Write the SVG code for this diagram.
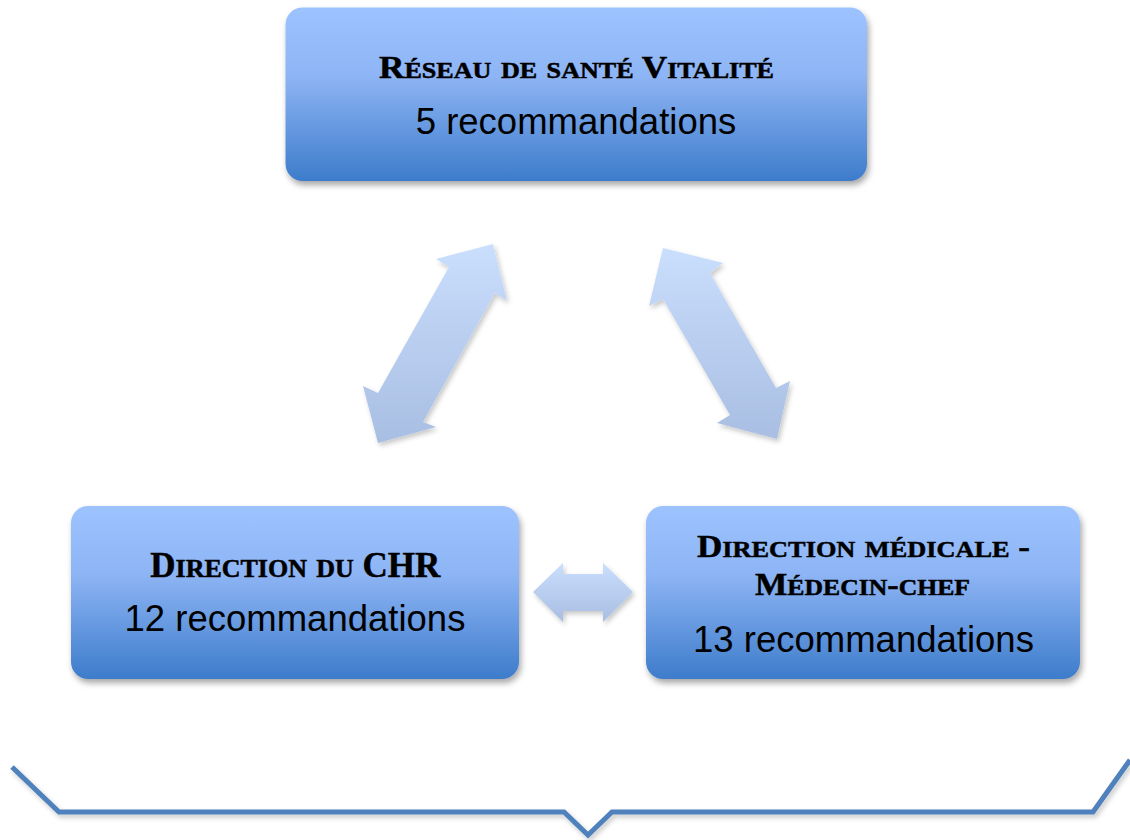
<svg xmlns="http://www.w3.org/2000/svg" width="1130" height="840" viewBox="0 0 1130 840">
  <defs>
    <linearGradient id="boxGrad" x1="0" y1="0" x2="0" y2="1">
      <stop offset="0" stop-color="#9dc3ff"/>
      <stop offset="0.4" stop-color="#8db4f4"/>
      <stop offset="1" stop-color="#3d7ccb"/>
    </linearGradient>
    <linearGradient id="arrowGrad" x1="0" y1="0" x2="0" y2="1">
      <stop offset="0" stop-color="#cadefd"/>
      <stop offset="1" stop-color="#a8bee2"/>
    </linearGradient>
    <filter id="shadow" x="-10%" y="-10%" width="125%" height="130%">
      <feDropShadow dx="2" dy="4" stdDeviation="3" flood-color="#000" flood-opacity="0.35"/>
    </filter>
    <filter id="shadowSoft" x="-15%" y="-15%" width="135%" height="135%">
      <feDropShadow dx="2" dy="3" stdDeviation="2.5" flood-color="#000" flood-opacity="0.22"/>
    </filter>
  </defs>
  <style>
    .box { fill: url(#boxGrad); filter: url(#shadow); }
    .arrow { fill: url(#arrowGrad); filter: url(#shadowSoft); }
    .title { font-family: "Liberation Serif", "Times New Roman", serif; font-weight: bold; font-variant: small-caps; fill: #000; stroke: #000; stroke-width: 0.5; text-anchor: middle; }
    .count { font-family: "Liberation Sans", Arial, sans-serif; font-size: 36.5px; fill: #000; text-anchor: middle; }
    .brace { fill: none; stroke: #4f81bd; stroke-width: 5; stroke-linejoin: miter; filter: url(#shadowSoft); }
  </style>

  <g id="connectors">
    <polygon class="arrow" points="493,244 507,301 495,293 423,422 436,427 378,443 363,386 378,393 449,267 436,259"/>
    <polygon class="arrow" points="663,248 723,263 710,273 776,388 790,381 777,439 717,423 730,415 663,299 649,306"/>
    <polygon class="arrow" points="533,592 563,563 563,574 603,574 603,563 633,592 603,622 603,611 563,611 563,622"/>
  </g>

  <g id="node-reseau">
    <rect class="box" x="285.5" y="7.5" width="581.5" height="173.5" rx="17" ry="17"/>
    <text class="title" x="576.5" y="78" font-size="31" textLength="395" lengthAdjust="spacingAndGlyphs">R<tspan font-size="33.5">éseau de santé</tspan> V<tspan font-size="33.5">italité</tspan></text>
    <text class="count" x="576" y="134">5 recommandations</text>
  </g>

  <g id="node-chr">
    <rect class="box" x="71" y="506" width="448" height="173" rx="17" ry="17"/>
    <text class="title" x="295.3" y="577" font-size="35" textLength="290" lengthAdjust="spacingAndGlyphs">D<tspan font-size="37.5">irection du</tspan> CHR</text>
    <text class="count" x="295" y="631">12 recommandations</text>
  </g>

  <g id="node-medicale">
    <rect class="box" x="646" y="506" width="434" height="173" rx="17" ry="17"/>
    <text class="title" x="863.5" y="557" font-size="32" textLength="333" lengthAdjust="spacingAndGlyphs">D<tspan font-size="34.5">irection médicale</tspan> -</text>
    <text class="title" x="862.5" y="595" font-size="32" textLength="215" lengthAdjust="spacingAndGlyphs">M<tspan font-size="34.5">édecin</tspan>-<tspan font-size="34.5">chef</tspan></text>
    <text class="count" x="863.5" y="652">13 recommandations</text>
  </g>

  <g id="brace">
    <path class="brace" d="M12,767 L59,812 L564,812 L588,835 L612,812 L1093,812 L1130,760"/>
  </g>
</svg>
